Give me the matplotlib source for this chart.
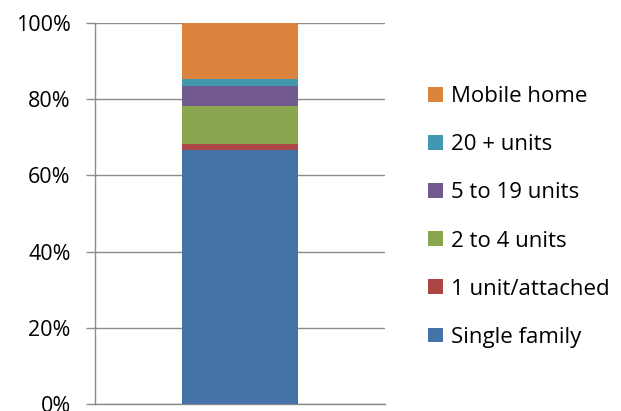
import numpy as np
import matplotlib.pyplot as plt
from matplotlib.patches import Patch
from matplotlib.ticker import PercentFormatter

plt.rcParams['font.family'] = ['Open Sans', 'DejaVu Sans']

categories = ['Single family', '1 unit/attached', '2 to 4 units',
              '5 to 19 units', '20 + units', 'Mobile home']
shares = [66.8, 1.4, 10.0, 5.3, 1.8, 14.7]
colors = ['#4572A7', '#AA4643', '#89A54E', '#71588F', '#4198AF', '#DB843D']
yticks = [0, 20, 40, 60, 80, 100]

fig = plt.figure(figsize=(6.21, 4.11), dpi=100)
ax = fig.add_axes([0.153, 0.017, 0.467, 0.927])

bottom = 0
for name, val, col in zip(categories, shares, colors):
    ax.bar(0, val, width=0.4, bottom=bottom, color=col, label=name, zorder=3)
    bottom += val

ax.set_xlim(-0.5, 0.5)
ax.set_ylim(0, 100)
ax.set_yticks(yticks)
ax.yaxis.set_major_formatter(PercentFormatter(decimals=0))
ax.set_xticks([])
ax.grid(axis='y', color='#8c8c8c', linewidth=1, zorder=0)
for s in ['top', 'right']:
    ax.spines[s].set_visible(False)
for s in ['left', 'bottom']:
    ax.spines[s].set_color('#8c8c8c')
    ax.spines[s].set_linewidth(1)
ax.tick_params(axis='y', length=6.5, width=1, color='#8c8c8c', pad=11,
               labelsize=15.5, labelcolor='black')

handles = [Patch(facecolor=c) for c in colors][::-1]
fig.legend(handles, categories[::-1], loc='center left',
           bbox_to_anchor=(0.672, 0.472), frameon=False, fontsize=16,
           handlelength=0.65, handleheight=0.65, handletextpad=0.35,
           labelspacing=1.22, borderpad=0)

fig.savefig('out.png', dpi=100)
